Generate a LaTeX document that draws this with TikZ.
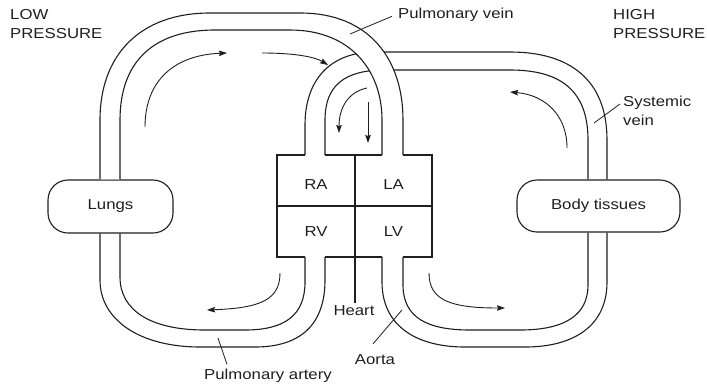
\documentclass[tikz,border=0pt]{standalone}
\usepackage{fontspec}
\setmainfont{Liberation Sans}[FakeStretch=1.16]
\usetikzlibrary{arrows.meta,calc}
\definecolor{ink}{gray}{0.12}
\begin{document}
\begin{tikzpicture}[x=1bp,y=-1bp,
  tube/.style={line width=1.1bp, draw=ink},
  flow/.style={line width=0.9bp, draw=ink, -{Stealth[length=8bp,width=5.5bp,inset=1bp]}},
  lead/.style={line width=0.8bp, draw=ink},
  lbl/.style={font=\fontsize{14.5}{19}\selectfont, text=ink, inner sep=0pt},
  organ/.style={draw=ink, line width=1.1bp, rounded corners=20bp, inner sep=0pt,
    font=\fontsize{14.5}{19}\selectfont, text=ink}]
\useasboundingbox (0,0) rectangle (707,385);

% organs
\node[organ, minimum width=125bp, minimum height=53bp] (lungs) at (110.5,206.5) {Lungs};
\node[organ, minimum width=163bp, minimum height=52bp] (body) at (598.5,206) {Body tissues};

% tube x positions
\coordinate (xL1) at (100,0);
\coordinate (xL2) at (120,0);
\coordinate (xB1) at (588,0);
\coordinate (xB2) at (607,0);

% systemic vein (passes beneath the pulmonary vein)
\draw[tube] (body.north -| xB2) -- (607,140) .. controls (607,80) and (570,52) .. (510,52)
  -- (375,52) .. controls (330,52) and (305,80) .. (305,125) -- (305,155);
\draw[tube] (body.north -| xB1) -- (588,140) .. controls (588,90) and (560,70) .. (510,70)
  -- (385,70) .. controls (345,70) and (325,85) .. (325,120) -- (325,155);

% pulmonary vein (on top)
\fill[white] (lungs.north -| xL1) -- (100,120) .. controls (100,55) and (140,13) .. (210,13)
  -- (300,13) .. controls (370,13) and (403,60) .. (403,120) -- (403,155) -- (382,155)
  -- (382,120) .. controls (382,70) and (350,30) .. (290,30) -- (215,30)
  .. controls (150,30) and (120,65) .. (120,120) -- (lungs.north -| xL2) -- cycle;
\draw[tube] (lungs.north -| xL1) -- (100,120) .. controls (100,55) and (140,13) .. (210,13)
  -- (300,13) .. controls (370,13) and (403,60) .. (403,120) -- (403,155);
\draw[tube] (lungs.north -| xL2) -- (120,120) .. controls (120,65) and (150,30) .. (215,30)
  -- (290,30) .. controls (350,30) and (382,70) .. (382,120) -- (382,155);

% pulmonary artery
\draw[tube] (325,257) -- (325,280) .. controls (325,325) and (300,347) .. (255,347)
  -- (200,347) .. controls (140,347) and (100,320) .. (100,280) -- (lungs.south -| xL1);
\draw[tube] (305,257) -- (305,282) .. controls (305,315) and (285,330) .. (245,330)
  -- (205,330) .. controls (150,330) and (120,310) .. (120,277) -- (lungs.south -| xL2);

% aorta
\draw[tube] (382,257) -- (382,282) .. controls (382,325) and (415,347) .. (465,347)
  -- (525,347) .. controls (575,347) and (607,325) .. (607,282) -- (body.south -| xB2);
\draw[tube] (403,257) -- (403,285) .. controls (403,318) and (428,330) .. (470,330)
  -- (520,330) .. controls (565,330) and (588,315) .. (588,285) -- (body.south -| xB1);

% heart
\draw[tube] (305,155) -- (277,155) -- (277,257) -- (305,257);
\draw[tube] (325,257) -- (382,257);
\draw[tube] (403,257) -- (432,257) -- (432,155) -- (403,155);
\draw[tube] (382,155) -- (325,155);
\draw[tube] (277,206) -- (432,206);
\node[lbl] (ra) at (316,185) {RA};
\node[lbl] (la) at (393.5,185) {LA};
\node[lbl] (rv) at (316,232) {RV};
\node[lbl] (lv) at (393.5,232) {LV};
\node[lbl, anchor=base] (heartlbl) at (354,315) {Heart};
\coordinate (septum) at (355,155);
\draw[tube, shorten >=2bp] (septum) -- (septum |- heartlbl.north);

% flow arrows
\draw[flow] (145,127) .. controls (145,80) and (175,55) .. (227,53);
\draw[flow] (262,53) .. controls (295,53) and (315,57) .. (328,65);
\draw[flow] (367,88) .. controls (348,92) and (339,108) .. (339,133);
\draw[flow] (368,102) -- (368,143);
\draw[flow] (567,148) .. controls (567,115) and (545,95) .. (510,92);
\draw[flow] (280,273) .. controls (280,300) and (260,308) .. (207,310);
\draw[flow] (429,273) .. controls (429,300) and (450,308) .. (505,308);

% labels
\node[lbl, anchor=north west, align=left] (low) at (10,9) {LOW\\PRESSURE};
\node[lbl, anchor=north west, align=left] (high) at (613,9) {HIGH\\PRESSURE};

\node[lbl, anchor=base west] (pvlbl) at (398,18) {Pulmonary vein};
\coordinate (pvin) at (350,34);
\draw[lead] ($(pvlbl.west)+(-6,2)$) -- (pvin);

\node[lbl, anchor=north west, align=left] (svlbl) at (623,96) {Systemic\\vein};
\coordinate (svin) at (594,123);
\draw[lead] ($(svlbl.north west)+(-3,8)$) -- (svin);

\node[lbl, anchor=base] (aortalbl) at (375,364) {Aorta};
\coordinate (aoin) at (402,310);
\draw[lead] ($(aortalbl.north)+(-2,-10)$) -- (aoin);

\node[lbl, anchor=base] (palbl) at (268,379) {Pulmonary artery};
\coordinate (pain) at (218,338);
\draw[lead] ($(palbl.north)+(-41,-4)$) -- (pain);
\end{tikzpicture}
\end{document}
